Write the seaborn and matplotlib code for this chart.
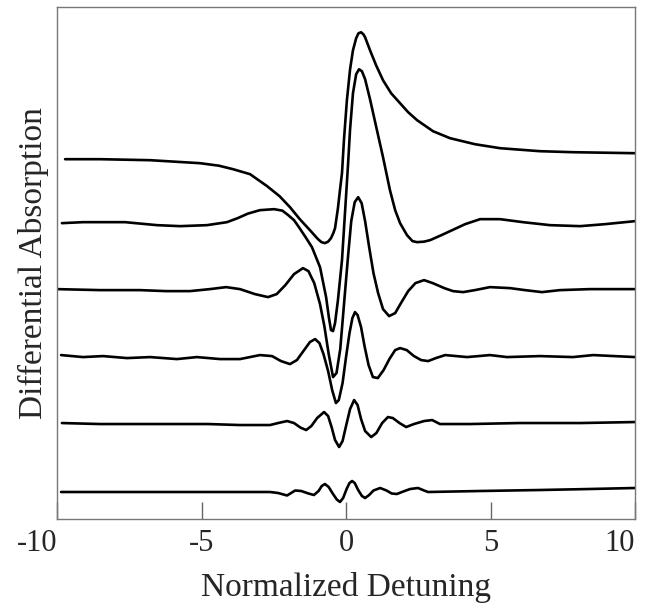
import pandas as pd
import matplotlib
matplotlib.use("Agg")
import matplotlib.pyplot as plt
import seaborn as sns

# points, (detuning, signal) per trace, top to bottom
c1 = [(-9.72, 36.0), (-8.51, 36.0), (-6.78, 35.9), (-5.05, 35.6), (-4.40, 35.35), (-3.91, 35.0),
      (-3.32, 34.5), (-2.73, 33.3), (-2.30, 32.3), (-1.94, 31.2), (-1.60, 30.0), (-1.25, 28.9),
      (-0.97, 28.0), (-0.85, 27.7), (-0.73, 27.6), (-0.62, 27.75), (-0.52, 28.1), (-0.44, 28.6),
      (-0.38, 29.1), (-0.28, 31.1), (-0.21, 32.9), (-0.14, 34.6), (-0.07, 38.0), (0.03, 41.9),
      (0.14, 45.0), (0.24, 46.9), (0.35, 48.1), (0.43, 48.6), (0.52, 48.7), (0.60, 48.5),
      (0.66, 48.2), (0.83, 46.9), (1.04, 45.4), (1.28, 43.9), (1.56, 42.6), (1.87, 41.6),
      (2.15, 40.7), (2.46, 39.9), (3.01, 38.8), (3.60, 38.1), (4.46, 37.5), (5.33, 37.1),
      (6.71, 36.8), (7.85, 36.7), (10.0, 36.6)]

c2 = [(-9.83, 29.6), (-9.10, 29.7), (-8.27, 29.7), (-7.65, 29.7), (-6.54, 29.4), (-5.74, 29.3),
      (-4.81, 29.4), (-4.12, 29.7), (-3.75, 30.1), (-3.40, 30.55), (-2.98, 30.9), (-2.49, 31.0),
      (-2.20, 30.85), (-2.00, 30.4), (-1.80, 29.9), (-1.63, 29.2), (-1.40, 28.2), (-1.18, 27.2),
      (-0.90, 25.2), (-0.69, 22.2), (-0.59, 20.1), (-0.52, 18.9), (-0.45, 18.8), (-0.38, 19.6),
      (-0.28, 21.9), (-0.14, 25.9), (-0.03, 30.9), (0.07, 35.5), (0.14, 39.0), (0.24, 42.6),
      (0.35, 44.5), (0.45, 45.0), (0.55, 44.8), (0.66, 44.0), (0.83, 42.0), (1.07, 38.9),
      (1.28, 36.2), (1.52, 32.9), (1.70, 30.9), (1.87, 29.6), (2.11, 28.4), (2.30, 27.8),
      (2.46, 27.7), (2.70, 27.75), (2.91, 27.9), (3.30, 28.4), (3.60, 28.8), (4.12, 29.5),
      (4.64, 30.0), (5.33, 30.0), (6.12, 29.7), (7.06, 29.4), (8.10, 29.3), (8.96, 29.5),
      (10.0, 29.8)]

c3 = [(-10.0, 23.0), (-8.51, 22.9), (-7.13, 22.9), (-6.23, 22.8), (-5.40, 22.8), (-4.71, 23.0),
      (-4.15, 23.2), (-3.67, 23.0), (-3.15, 22.5), (-2.70, 22.2), (-2.40, 22.5), (-2.10, 23.4),
      (-1.80, 24.5), (-1.49, 25.1), (-1.30, 24.8), (-1.10, 23.6), (-0.90, 21.5), (-0.75, 19.3),
      (-0.60, 16.5), (-0.45, 14.2), (-0.33, 14.6), (-0.20, 17.0), (-0.07, 21.5), (0.07, 26.3),
      (0.18, 29.8), (0.30, 31.7), (0.42, 32.2), (0.54, 31.6), (0.66, 29.8), (0.80, 27.2),
      (0.95, 24.6), (1.11, 22.6), (1.28, 21.0), (1.49, 20.3), (1.70, 20.6), (1.90, 21.6),
      (2.15, 22.8), (2.40, 23.6), (2.70, 23.9), (3.00, 23.6), (3.40, 23.1), (3.70, 22.8),
      (4.05, 22.7), (4.46, 22.9), (4.98, 23.2), (5.67, 23.1), (6.19, 22.9), (6.78, 22.7),
      (7.40, 22.9), (8.44, 23.0), (10.0, 23.0)]

c4 = [(-9.86, 16.4), (-9.10, 16.2), (-8.41, 16.3), (-7.58, 16.1), (-6.78, 16.2), (-5.85, 16.0),
      (-5.16, 16.2), (-4.36, 16.0), (-3.67, 16.0), (-2.98, 16.4), (-2.56, 16.3), (-2.25, 15.8),
      (-1.94, 15.5), (-1.70, 15.9), (-1.45, 16.9), (-1.25, 17.7), (-1.07, 18.0), (-0.92, 17.6),
      (-0.78, 16.5), (-0.62, 14.8), (-0.48, 12.9), (-0.35, 11.6), (-0.25, 11.9), (-0.12, 13.6),
      (0.00, 16.2), (0.12, 18.6), (0.22, 20.1), (0.31, 20.7), (0.40, 20.4), (0.52, 19.2),
      (0.64, 17.3), (0.78, 15.4), (0.93, 14.2), (1.10, 14.1), (1.30, 14.9), (1.50, 16.0),
      (1.70, 16.9), (1.87, 17.1), (2.10, 16.9), (2.35, 16.3), (2.60, 15.9), (2.84, 15.8),
      (3.11, 16.1), (3.43, 16.4), (4.19, 16.2), (4.98, 16.4), (5.57, 16.2), (6.71, 16.3),
      (7.85, 16.2), (8.55, 16.4), (10.0, 16.2)]

c5 = [(-9.83, 9.6), (-8.51, 9.5), (-6.78, 9.5), (-4.78, 9.5), (-3.67, 9.4), (-2.63, 9.4),
      (-2.35, 9.6), (-2.04, 9.8), (-1.80, 9.6), (-1.58, 9.15), (-1.38, 8.9), (-1.20, 9.3),
      (-1.00, 10.1), (-0.76, 10.7), (-0.62, 10.3), (-0.50, 9.2), (-0.38, 7.9), (-0.24, 7.2),
      (-0.12, 7.8), (0.00, 9.3), (0.14, 11.0), (0.28, 11.9), (0.40, 11.4), (0.52, 10.0),
      (0.66, 8.8), (0.87, 8.2), (1.05, 8.6), (1.25, 9.6), (1.45, 10.2), (1.62, 10.1),
      (1.85, 9.6), (2.08, 9.2), (2.35, 9.5), (2.70, 9.8), (2.98, 9.9), (3.25, 9.5),
      (4.29, 9.5), (5.99, 9.6), (8.10, 9.6), (10.0, 9.7)]

c6 = [(-9.86, 2.7), (-7.47, 2.7), (-5.09, 2.7), (-3.67, 2.7), (-2.63, 2.7), (-2.35, 2.6),
      (-2.04, 2.35), (-1.90, 2.6), (-1.76, 2.85), (-1.55, 2.8), (-1.30, 2.55), (-1.11, 2.4),
      (-0.95, 2.8), (-0.84, 3.3), (-0.73, 3.5), (-0.60, 3.2), (-0.45, 2.5), (-0.32, 1.95),
      (-0.21, 1.7), (-0.10, 2.1), (0.02, 3.0), (0.12, 3.6), (0.21, 3.8), (0.30, 3.6),
      (0.42, 2.9), (0.55, 2.3), (0.66, 2.1), (0.80, 2.4), (0.95, 2.85), (1.18, 3.1),
      (1.40, 2.85), (1.58, 2.55), (1.76, 2.5), (1.98, 2.75), (2.22, 3.0), (2.49, 3.1),
      (2.70, 2.85), (2.84, 2.7), (4.64, 2.8), (6.71, 2.9), (8.44, 3.0), (10.0, 3.1)]

traces = [c1, c2, c3, c4, c5, c6]
xticks = [-10, -5, 0, 5, 10]

sns.set_style("white")
plt.rcParams['font.family'] = ['Liberation Serif', 'DejaVu Serif']

fig = plt.figure(figsize=(6.48, 6.07), dpi=100)
ax = fig.add_axes([0.088, 0.145, 0.892, 0.843])

for pts in traces:
    df = pd.DataFrame(pts, columns=['x', 'y'])
    sns.lineplot(data=df, x='x', y='y', ax=ax, color='black', lw=1.9,
                 sort=False, estimator=None)

ax.set_xlim(-10, 10)
ax.set_ylim(0, 51.2)
ax.set_xticks(xticks)
ax.set_xticklabels([str(t) for t in xticks])
ax.set_yticks([])
ax.tick_params(axis='x', bottom=True, direction='in', length=12, width=1,
               color='#666666', pad=7, labelsize=22)
labs = ax.get_xticklabels()
labs[0].set_ha('right')
labs[-1].set_ha('right')
for s in ax.spines.values():
    s.set_color('#777777')
    s.set_linewidth(1)

ax.set_xlabel('Normalized Detuning', fontsize=24, labelpad=10)
ax.set_ylabel('Differential Absorption', fontsize=24, labelpad=6)

fig.savefig('out.png', dpi=100)
